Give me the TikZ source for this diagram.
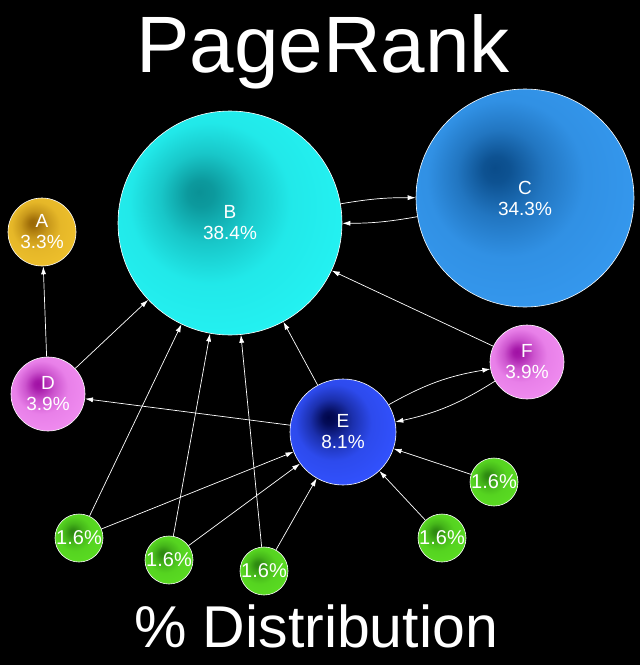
\documentclass[tikz,border=0pt]{standalone}
\usepackage{fontspec}
\setmainfont{Liberation Sans}
\usetikzlibrary{arrows.meta}

% node colours: inner (dark spot) and outer
\definecolor{bin}{HTML}{0A9296}
\definecolor{bout}{HTML}{24F2F2}
\definecolor{cin}{HTML}{0A4C8A}
\definecolor{cout}{HTML}{3598EE}
\definecolor{ain}{HTML}{9A6806}
\definecolor{aout}{HTML}{EEC02C}
\definecolor{din}{HTML}{A010A4}
\definecolor{dout}{HTML}{F08CF0}
\definecolor{ein}{HTML}{00064A}
\definecolor{eout}{HTML}{3252FF}
\definecolor{gin}{HTML}{2C8810}
\definecolor{gout}{HTML}{5ADC22}

\pgfdeclareradialshading[rankin,rankout]{rankball}{\pgfpoint{-7bp}{7bp}}{%
  color(0bp)=(rankin); color(3bp)=(rankin!92!rankout);
  color(10bp)=(rankin!45!rankout); color(18bp)=(rankin!10!rankout);
  color(30bp)=(rankout); color(50bp)=(rankout)}

\begin{document}
\begin{tikzpicture}[
        x=1pt, y=-1pt,
        % define styles
        rankcol/.code 2 args={\colorlet{rankin}{#1}\colorlet{rankout}{#2}},
        rank/.style={
            circle,
            draw=white!85,
            line width=0.6pt,
            shade,
            shading=rankball,
            text=white,
            align=center,
            inner sep=0pt,
            font=\fontsize{19}{21}\selectfont
        },
        page/.style={ rank, minimum size=#1 },
        green/.style={ rank, minimum size=48pt, rankcol={gin}{gout},
            font=\fontsize{20}{22}\selectfont },
        heading/.style={ text=white, anchor=base, inner sep=0pt },
        edge/.style={ draw=white!85, line width=0.7pt, -> },
        >={Latex[length=8pt,width=5pt]}
    ]
    % background fixes the bounding box
    \fill[black] (0,0) rectangle (640,665);

    % headings
    \node[heading, font=\fontsize{80}{80}\selectfont] (title) at (323,72) {PageRank};
    \node[heading, font=\fontsize{59}{59}\selectfont] (caption) at (316,647) {\% Distribution};

    % pages
    \node[page=224pt, rankcol={bin}{bout}] (B) at (230,223) {B\\38.4\%};
    \node[page=218pt, rankcol={cin}{cout}] (C) at (525,198) {C\\34.3\%};
    \node[page=68pt, rankcol={ain}{aout}] (A) at (42,232) {A\\3.3\%};
    \node[page=74pt, rankcol={din}{dout}] (D) at (48,394) {D\\3.9\%};
    \node[page=74pt, rankcol={din}{dout}] (F) at (527,362) {F\\3.9\%};
    \node[page=106pt, rankcol={ein}{eout}] (E) at (343,432) {E\\8.1\%};

    % small pages
    \foreach \g/\pos in {1/{(79,538)}, 2/{(169,560)}, 3/{(264,571)},
                         4/{(442,538)}, 5/{(494,482)}}
    \node[green] (g\g) at \pos {1.6\%};

    % links between pages
    \draw[edge] (D) -- (A);
    \draw[edge] (D) -- (B);
    \draw[edge] (E) -- (D);
    \draw[edge] (E) -- (B);
    \draw[edge] (F) -- (B);
    \draw[edge] (B) to[bend left=5] (C);
    \draw[edge] (C) to[bend left=5] (B);
    \draw[edge] (E) to[bend left=10] (F);
    \draw[edge] (F) to[bend left=10] (E);

    % links from the small pages
    \foreach \g in {1,2,3}
    \draw[edge] (g\g) -- (B);
    \foreach \g in {1,...,5}
    \draw[edge] (g\g) -- (E);
\end{tikzpicture}
\end{document}
